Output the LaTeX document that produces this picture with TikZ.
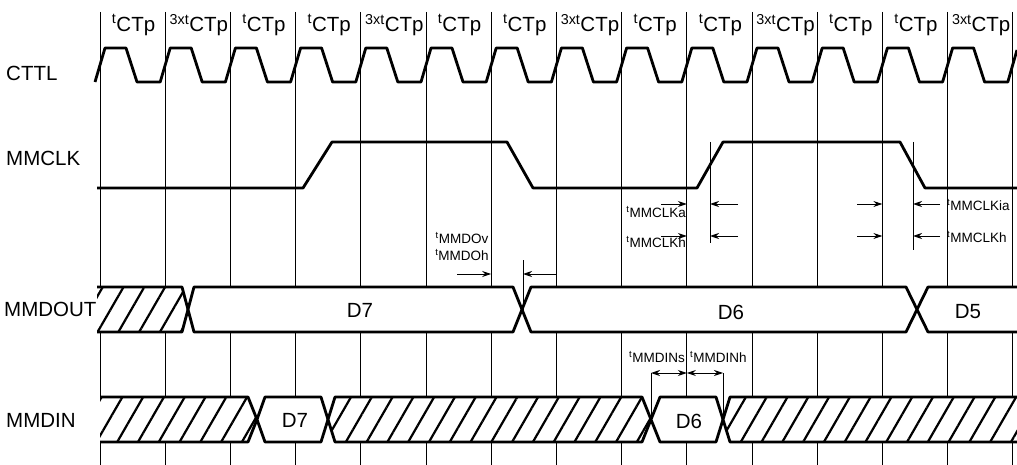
\documentclass[tikz,border=0pt]{standalone}
\usepackage{fontspec}
\setmainfont{Liberation Sans}
\usetikzlibrary{arrows.meta,patterns.meta}
\newcommand{\bigfont}{\fontsize{20.5}{24}\selectfont}
\newcommand{\smallfont}{\fontsize{13.5}{15}\selectfont}
\tikzset{
  sigline/.style={line width=2.8pt,line join=round},
  gridline/.style={line width=0.8pt},
  dimline/.style={line width=0.9pt},
  dimarrow/.style={->,>={Stealth[length=9pt,width=6pt]},line width=0.9pt},
  dimboth/.style={<->,>={Stealth[length=9pt,width=6pt]},line width=0.9pt},
  bus/.style={fill=white},
  hatch/.style={fill=white,postaction={pattern={Lines[angle=60,distance=18pt,line width=2.2pt]}}},
  lab/.style={font=\bigfont,inner sep=0pt},
  slab/.style={font=\smallfont,inner sep=0pt}
}
\begin{document}
\begin{tikzpicture}[x=1pt,y=-1pt]
    \useasboundingbox (0,0) rectangle (1017,465);
    \foreach \i in {0,...,14}
        \draw[gridline] ({100+65.2*\i},12) coordinate (g\i) -- ({100+65.2*\i},465); %縦線
    \foreach \i/\s in {0/t,1/3xt,2/t,3/t,4/3xt,5/t,6/t,7/3xt,8/t,9/t,10/3xt,11/t,12/t,13/3xt}
        \node[lab] (p\i) at ({133.6+65.2*\i},25) {\textsuperscript{\s}CTp}; %周期
    \node[lab,anchor=west] (cttl) at (6,73) {CTTL};
    \node[lab,anchor=west] (mmclk) at (6,158) {MMCLK};
    \node[lab,anchor=west] (mmdout) at (4,309) {MMDOUT};
    \node[lab,anchor=west] (mmdin) at (6,420) {MMDIN};
    \draw[sigline] (95,82) \foreach \i in {0,...,13} {
        -- ({105+65.2*\i},48) -- ({126+65.2*\i},48) -- ({137+65.2*\i},82) -- ({160.2+65.2*\i},82)}
        -- (1017,50); %CTTL
    \draw[sigline] (97,188) -- (303,188) -- (332,142) -- (507,142) -- (533,188)
        -- (697,188) -- (723,142) -- (900,142) -- (925,188) -- (1017,188); %MMCLK
    % MMDOUT
    \path[hatch] (97,287) -- (182,287) -- (188,309.5) -- (182,332) -- (97,332) -- cycle;
    \draw[sigline] (97,287) -- (182,287) -- (188,309.5) -- (182,332) -- (97,332);
    \draw[sigline,bus] (188,309.5) -- (194,287) -- (513,287) -- (522,309.5) -- (513,332) -- (194,332) -- cycle;
    \draw[sigline,bus] (522,309.5) -- (531,287) -- (906,287) -- (917,309.5) -- (906,332) -- (531,332) -- cycle;
    \path[bus] (1017,287) -- (928,287) -- (917,309.5) -- (928,332) -- (1017,332) -- cycle;
    \draw[sigline] (1017,287) -- (928,287) -- (917,309.5) -- (928,332) -- (1017,332);
    \node[lab] (od7) at (360,310) {D7};
    \node[lab] (od6) at (731,312) {D6};
    \node[lab] (od5) at (968,312) {D5};
    % MMDIN
    \path[hatch] (100,397) -- (248,397) -- (257,419.5) -- (248,442) -- (100,442) -- cycle;
    \draw[sigline] (100,397) -- (248,397) -- (257,419.5) -- (248,442) -- (100,442);
    \draw[sigline,bus] (257,419.5) -- (265,397) -- (321,397) -- (328,419.5) -- (321,442) -- (265,442) -- cycle;
    \draw[sigline,hatch] (328,419.5) -- (335,397) -- (642,397) -- (651,419.5) -- (642,442) -- (335,442) -- cycle;
    \draw[sigline,bus] (651,419.5) -- (660,397) -- (716,397) -- (723,419.5) -- (716,442) -- (660,442) -- cycle;
    \path[hatch] (1017,397) -- (730,397) -- (723,419.5) -- (730,442) -- (1017,442) -- cycle;
    \draw[sigline] (1017,397) -- (730,397) -- (723,419.5) -- (730,442) -- (1017,442);
    \node[lab] (id7) at (295,420) {D7};
    \node[lab] (id6) at (689,421) {D6};
    % MMCLKのタイミング
    \coordinate (ra) at (710,142);
    \coordinate (rb) at (710,243);
    \coordinate (fa) at (913,142);
    \coordinate (fb) at (913,250);
    \draw[dimline] (ra) -- (rb);
    \draw[dimline] (fa) -- (fb);
    \foreach \y in {204,236} {
        \draw[dimarrow] (661,\y) -- (g9 |- 0,\y);
        \draw[dimarrow] (738,\y) -- (ra |- 0,\y);
        \draw[dimarrow] (857,\y) -- (g12 |- 0,\y);
        \draw[dimarrow] (940,\y) -- (fa |- 0,\y);
    }
    \node[slab,anchor=east] (tka) at (686,212) {\textsuperscript{t}MMCLKa};
    \node[slab,anchor=east] (tkh) at (686,242) {\textsuperscript{t}MMCLKh};
    \node[slab,anchor=west] (tkia) at (947,205) {\textsuperscript{t}MMCLKia};
    \node[slab,anchor=west] (tkhr) at (947,237) {\textsuperscript{t}MMCLKh};
    % MMDOUTのタイミング
    \coordinate (xa) at (523,260);
    \coordinate (xb) at (523,309.5);
    \draw[dimline] (xa) -- (xb);
    \draw[dimarrow] (457,274) -- (g6 |- 0,274);
    \draw[dimarrow] (g7 |- 0,274) -- (xa |- 0,274);
    \node[slab] (tdv) at (462,238) {\textsuperscript{t}MMDOv};
    \node[slab] (tdh) at (462,255) {\textsuperscript{t}MMDOh};
    % MMDINのタイミング
    \coordinate (sa) at (651,373);
    \coordinate (sb) at (651,419.5);
    \coordinate (ha) at (723,373);
    \coordinate (hb) at (723,419.5);
    \draw[dimline] (sa) -- (sb);
    \draw[dimline] (ha) -- (hb);
    \draw[dimboth] (sa) -- (g9 |- sa);
    \draw[dimboth] (g9 |- ha) -- (ha);
    \node[slab,anchor=east] (tis) at (685,357) {\textsuperscript{t}MMDINs};
    \node[slab,anchor=west] (tih) at (690,357) {\textsuperscript{t}MMDINh};
\end{tikzpicture}
\end{document}
